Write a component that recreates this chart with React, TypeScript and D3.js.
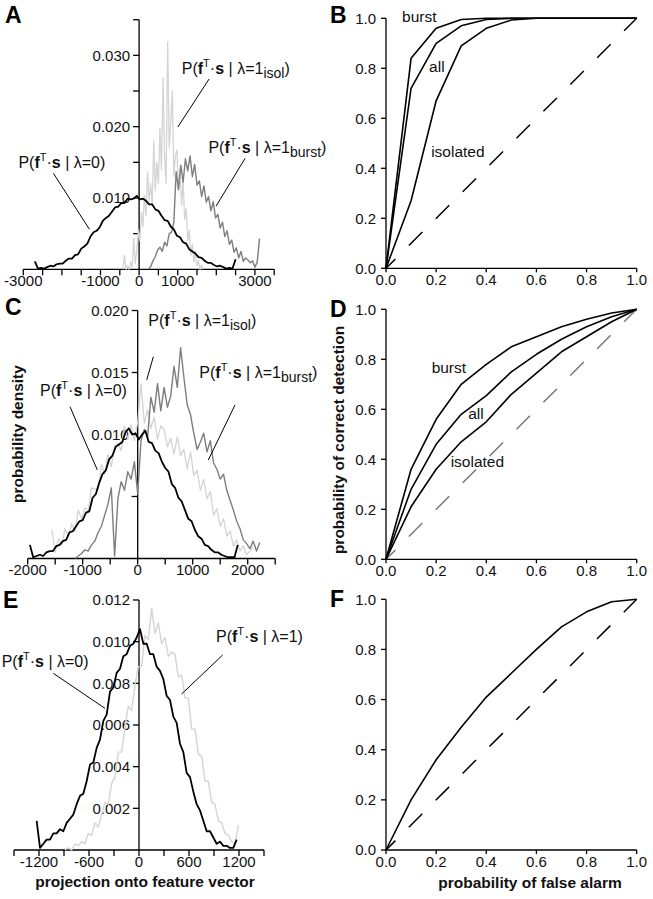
import React from "react";
import * as d3 from "d3";

const FONT = "'Liberation Sans', Arial, Helvetica, sans-serif";
const DENSITY_UNIT = 1e-4; // histogram values below are densities x 1e4

// ---------- Panel A histograms (projection value bins) ----------
const A_NULL_START = -2700;
const A_NULL_STEP = 80;
const A_NULL = [11, 1, 2, 1, 3, 5, 4, 7, 8, 8, 12, 15, 15, 20, 21, 29, 32, 36, 46, 52, 54, 59, 68, 72, 75, 81, 87, 88, 93, 93, 99, 98, 99, 103, 98, 99, 96, 91, 91, 84, 82, 75, 69, 68, 60, 56, 47, 45, 38, 36, 28, 25, 22, 17, 16, 12, 9, 9, 6, 4, 5, 3, 1, 2, 1, 14];
const A_ISOL_START = -420;
const A_ISOL_STEP = 40;
const A_ISOL = [0, 20, 0, 5, 0, 10, 3, 43, 8, 25, 55, 40, 80, 60, 104, 75, 137, 95, 120, 90, 180, 110, 150, 120, 198, 140, 268, 160, 120, 319, 170, 207, 250, 130, 160, 167, 110, 140, 90, 125, 70, 85, 40, 55, 20, 35, 10, 25, 5, 12, 0, 6, 0];
const A_BURST_START = 240;
const A_BURST_STEP = 60;
const A_BURST = [0, 4, 12, 18, 27, 31, 25, 38, 33, 50, 52, 66, 137, 112, 146, 122, 155, 138, 159, 130, 147, 118, 124, 102, 117, 94, 102, 82, 95, 72, 77, 58, 66, 46, 54, 35, 41, 24, 30, 16, 25, 11, 16, 13, 9, 12, 3, 10, 43];

// ---------- Panel C histograms ----------
const C_NULL_START = -1960;
const C_NULL_STEP = 60;
const C_NULL = [11, 1, 2, 3, 2, 5, 6, 6, 10, 11, 14, 15, 21, 22, 26, 30, 31, 37, 38, 49, 52, 61, 68, 71, 80, 83, 90, 92, 94, 102, 105, 100, 101, 96, 100, 103, 94, 93, 87, 85, 78, 73, 70, 60, 57, 49, 46, 39, 32, 30, 23, 18, 16, 11, 10, 7, 5, 5, 3, 2, 1, 1, 1, 11];
const C_ISOL_START = -1560;
const C_ISOL_STEP = 60;
const C_ISOL = [23, 5, 16, 11, 24, 18, 28, 22, 39, 32, 41, 38, 57, 56, 56, 76, 68, 84, 74, 91, 93, 87, 107, 96, 108, 95, 110, 141, 109, 120, 105, 114, 96, 107, 104, 90, 97, 84, 98, 83, 88, 72, 86, 67, 71, 55, 64, 48, 54, 35, 40, 26, 32, 18, 22, 10, 15, 6, 10, 3, 6, 10];
const C_BURST_START = -1140;
const C_BURST_STEP = 60;
const C_BURST = [0, 2, 4, 7, 6, 11, 14, 21, 26, 35, 44, 57, 2, 48, 62, 55, 70, 64, 78, 52, 95, 104, 98, 130, 118, 141, 119, 138, 122, 131, 155, 138, 170, 146, 124, 116, 101, 88, 94, 101, 86, 95, 77, 72, 64, 68, 55, 47, 39, 30, 24, 15, 12, 8, 14, 6, 13];

// ---------- Panel E histograms ----------
const E_NULL_START = -1228;
const E_NULL_STEP = 40;
const E_NULL = [14, 1, 3, 5, 5, 8, 8, 10, 9, 13, 15, 17, 22, 26, 27, 33, 41, 42, 49, 53, 62, 65, 76, 78, 85, 87, 93, 94, 98, 99, 102, 106, 99, 99, 94, 94, 88, 86, 82, 74, 72, 64, 61, 51, 47, 37, 35, 28, 22, 19, 14, 9, 9, 6, 3, 4, 2, 2, 1, 1, 5];
const E_SIG_START = -888;
const E_SIG_STEP = 40;
const E_SIG = [0, 1, 0, 3, 2, 4, 3, 8, 7, 13, 11, 17, 23, 22, 32, 35, 47, 47, 59, 69, 67, 79, 88, 88, 103, 101, 116, 104, 109, 99, 102, 93, 95, 94, 83, 84, 73, 73, 58, 58, 46, 45, 33, 33, 23, 22, 14, 13, 8, 7, 4, 3, 12];

// ---------- ROC curves ----------
const FALSE_ALARM = [0, 0.1, 0.2, 0.3, 0.4, 0.5, 0.6, 0.7, 0.8, 0.9, 1.0];
const B_BURST = [0, 0.84, 0.96, 0.995, 1, 1, 1, 1, 1, 1, 1];
const B_ALL = [0, 0.72, 0.9, 0.97, 0.995, 1, 1, 1, 1, 1, 1];
const B_ISOL = [0, 0.27, 0.67, 0.89, 0.96, 0.993, 1, 1, 1, 1, 1];
const D_BURST = [0, 0.36, 0.56, 0.7, 0.78, 0.85, 0.89, 0.93, 0.96, 0.985, 1];
const D_ALL = [0, 0.28, 0.46, 0.58, 0.655, 0.75, 0.82, 0.88, 0.93, 0.97, 1];
const D_ISOL = [0, 0.21, 0.36, 0.47, 0.55, 0.66, 0.745, 0.83, 0.89, 0.95, 1];
const F_ALL = [0, 0.2, 0.36, 0.49, 0.61, 0.705, 0.8, 0.89, 0.95, 0.99, 1];
const CHANCE_X = [0, 1];
const CHANCE_Y = [0, 1];

// ---------- ticks ----------
const A_XTICKS = [-3000, -2500, -2000, -1500, -1000, -500, 0, 500, 1000, 1500, 2000, 2500, 3000, 3500];
const A_XLABELS = [-3000, -1000, 0, 1000, 3000];
const A_YTICKS = [0.005, 0.01, 0.015, 0.02, 0.025, 0.03, 0.035];
const A_YLABELS = [0.01, 0.02, 0.03];
const C_XTICKS = [-2000, -1500, -1000, -500, 0, 500, 1000, 1500, 2000, 2500];
const C_XLABELS = [-2000, -1000, 0, 1000, 2000];
const C_YTICKS = [0.005, 0.01, 0.015, 0.02];
const C_YLABELS = [0.01, 0.015, 0.02];
const E_XTICKS = [-1500, -1200, -900, -600, -300, 0, 300, 600, 900, 1200, 1500];
const E_XLABELS = [-1200, -600, 0, 600, 1200];
const E_YTICKS = [0.002, 0.004, 0.006, 0.008, 0.01, 0.012];
const E_YLABELS = [0.002, 0.004, 0.006, 0.008, 0.01, 0.012];
const ROC_TICKS = [0, 0.2, 0.4, 0.6, 0.8, 1.0];

type Hist = { start: number; step: number; values: number[] };
type Note = { text: [number, number]; lead: [number, number][]; eq: string; sub?: string };
type Scale = d3.ScaleLinear<number, number>;

const LIGHT = "#d4d4d4";
const DARK = "#7e7e7e";

function histPts(h: Hist): [number, number][] {
  return h.values.map((v, i) => [h.start + i * h.step, v * DENSITY_UNIT]);
}

function PLabel({ x, y, eq, sub }: { x: number; y: number; eq: string; sub?: string }) {
  return (
    <text x={x} y={y} fontSize={16} fill="#111">
      <tspan>P(</tspan>
      <tspan fontWeight="bold">f</tspan>
      <tspan fontSize={11} dy={-7}>T</tspan>
      <tspan dy={7}>{"\u00b7"}</tspan>
      <tspan fontWeight="bold">s</tspan>
      <tspan>{" | \u03bb=" + eq}</tspan>
      {sub ? <tspan fontSize={14} dy={4}>{sub}</tspan> : null}
      <tspan dy={sub ? -4 : 0}>)</tspan>
    </text>
  );
}

function HistPanel(props: {
  x: Scale;
  y: Scale;
  xTicks: number[];
  xLabels: number[];
  yTicks: number[];
  yLabels: number[];
  yFmt: (v: number) => string;
  series: { h: Hist; color: string; width: number }[];
  notes: Note[];
}) {
  const { x, y } = props;
  const x0 = x(0);
  const yb = y(0);
  const [xmin, xmax] = x.domain();
  const ytop = y.domain()[1];
  const line = d3
    .line<[number, number]>()
    .x((d) => x(d[0]))
    .y((d) => y(d[1]));
  return (
    <g>
      <g stroke="#000" strokeWidth={1.3}>
        <line x1={x0} x2={x0} y1={yb} y2={y(ytop)} />
        <line x1={x(xmin)} x2={x(xmax)} y1={yb} y2={yb} />
        {props.yTicks.map((t) => (
          <line key={"yt" + t} x1={x0 - 6} x2={x0} y1={y(t)} y2={y(t)} />
        ))}
        {props.xTicks.map((t) => (
          <line key={"xt" + t} x1={x(t)} x2={x(t)} y1={yb} y2={yb + 6} />
        ))}
      </g>
      <g fontSize={15} fill="#111">
        {props.yLabels.map((t) => (
          <text key={"yl" + t} x={x0 - 9} y={y(t) + 5.3} textAnchor="end">
            {props.yFmt(t)}
          </text>
        ))}
        {props.xLabels.map((t) => (
          <text key={"xl" + t} x={x(t)} y={yb + 16.5} textAnchor="middle">
            {String(t)}
          </text>
        ))}
      </g>
      {props.series.map((s, i) => (
        <path
          key={"s" + i}
          d={line(histPts(s.h)) || ""}
          fill="none"
          stroke={s.color}
          strokeWidth={s.width}
          strokeLinejoin="round"
        />
      ))}
      {props.notes.map((n, i) => (
        <g key={"n" + i}>
          <line
            x1={x(n.lead[0][0])}
            y1={y(n.lead[0][1])}
            x2={x(n.lead[1][0])}
            y2={y(n.lead[1][1])}
            stroke="#000"
            strokeWidth={1}
          />
          <PLabel x={x(n.text[0])} y={y(n.text[1])} eq={n.eq} sub={n.sub} />
        </g>
      ))}
    </g>
  );
}

function RocPanel(props: {
  x: Scale;
  y: Scale;
  curves: number[][];
  chanceColor: string;
  labels: { text: string; pos: [number, number] }[];
}) {
  const { x, y } = props;
  const line = d3
    .line<[number, number]>()
    .x((d) => x(d[0]))
    .y((d) => y(d[1]));
  const chance = line(CHANCE_X.map((v, i) => [v, CHANCE_Y[i]] as [number, number])) || "";
  return (
    <g>
      <g stroke="#000" strokeWidth={1.3}>
        <line x1={x(0)} x2={x(0)} y1={y(0)} y2={y(1)} />
        <line x1={x(0)} x2={x(1)} y1={y(0)} y2={y(0)} />
        {ROC_TICKS.map((t) => (
          <line key={"yt" + t} x1={x(0) - 5} x2={x(0)} y1={y(t)} y2={y(t)} />
        ))}
        {ROC_TICKS.map((t) => (
          <line key={"xt" + t} x1={x(t)} x2={x(t)} y1={y(0)} y2={y(0) + 4} />
        ))}
      </g>
      <g fontSize={15} fill="#111">
        {ROC_TICKS.map((t) => (
          <text key={"yl" + t} x={x(0) - 10} y={y(t) + 5.3} textAnchor="end">
            {t.toFixed(1)}
          </text>
        ))}
        {ROC_TICKS.map((t) => (
          <text key={"xl" + t} x={x(t)} y={y(0) + 17} textAnchor="middle">
            {t.toFixed(1)}
          </text>
        ))}
      </g>
      <path
        d={chance}
        fill="none"
        stroke={props.chanceColor}
        strokeWidth={1.5}
        strokeDasharray="19,19"
        strokeDashoffset={5.7}
      />
      {props.curves.map((c, i) => (
        <path
          key={"c" + i}
          d={line(FALSE_ALARM.map((v, j) => [v, c[j]] as [number, number])) || ""}
          fill="none"
          stroke="#000"
          strokeWidth={1.6}
          strokeLinejoin="round"
        />
      ))}
      <g fontSize={15.5} fill="#111">
        {props.labels.map((l) => (
          <text key={l.text} x={x(l.pos[0])} y={y(l.pos[1])}>
            {l.text}
          </text>
        ))}
      </g>
    </g>
  );
}

export default function App() {
  const xA = d3.scaleLinear().domain([-3000, 3500]).range([23.3, 274.2]);
  const yA = d3.scaleLinear().domain([0, 0.035]).range([269.3, 19.7]);
  const xC = d3.scaleLinear().domain([-2000, 2500]).range([27.7, 275.2]);
  const yC = d3.scaleLinear().domain([0, 0.02]).range([558.5, 310.5]);
  const xE = d3.scaleLinear().domain([-1500, 1500]).range([14, 264]);
  const yE = d3.scaleLinear().domain([0, 0.012]).range([850, 600]);
  const xR = d3.scaleLinear().domain([0, 1]).range([386, 636.7]);
  const yB = d3.scaleLinear().domain([0, 1]).range([268.3, 18.3]);
  const yD = d3.scaleLinear().domain([0, 1]).range([559.3, 309.3]);
  const yF = d3.scaleLinear().domain([0, 1]).range([850, 599.3]);
  const fmt3 = (v: number) => v.toFixed(3);

  return (
    <svg
      width={653}
      height={899}
      viewBox="0 0 653 899"
      style={{ position: "absolute", left: 0, top: 0, fontFamily: FONT }}
    >
      <rect width={653} height={899} fill="#fff" />

      {/* Panel letters */}
      <g fontSize={23} fontWeight="bold" fill="#000">
        <text x={5} y={23}>A</text>
        <text x={330} y={23}>B</text>
        <text x={5} y={315}>C</text>
        <text x={330} y={316.5}>D</text>
        <text x={3} y={608}>E</text>
        <text x={330} y={607}>F</text>
      </g>

      <HistPanel
        x={xA}
        y={yA}
        xTicks={A_XTICKS}
        xLabels={A_XLABELS}
        yTicks={A_YTICKS}
        yLabels={A_YLABELS}
        yFmt={fmt3}
        series={[
          { h: { start: A_ISOL_START, step: A_ISOL_STEP, values: A_ISOL }, color: LIGHT, width: 1.3 },
          { h: { start: A_BURST_START, step: A_BURST_STEP, values: A_BURST }, color: DARK, width: 1.4 },
          { h: { start: A_NULL_START, step: A_NULL_STEP, values: A_NULL }, color: "#000", width: 1.8 },
        ]}
        notes={[
          { text: [1106, 0.02737], lead: [[1813, 0.02668], [1003, 0.01995]], eq: "1", sub: "isol" },
          { text: [1795, 0.01635], lead: [[2746, 0.01556], [1995, 0.00887]], eq: "1", sub: "burst" },
          { text: [-3127, 0.01424], lead: [[-2220, 0.01346], [-1288, 0.00561]], eq: "0" },
        ]}
      />

      <HistPanel
        x={xC}
        y={yC}
        xTicks={C_XTICKS}
        xLabels={C_XLABELS}
        yTicks={C_YTICKS}
        yLabels={C_YLABELS}
        yFmt={fmt3}
        series={[
          { h: { start: C_ISOL_START, step: C_ISOL_STEP, values: C_ISOL }, color: LIGHT, width: 1.3 },
          { h: { start: C_BURST_START, step: C_BURST_STEP, values: C_BURST }, color: DARK, width: 1.4 },
          { h: { start: C_NULL_START, step: C_NULL_STEP, values: C_NULL }, color: "#000", width: 1.8 },
        ]}
        notes={[
          { text: [193, 0.01875], lead: [[284, 0.01627], [164, 0.0144]], eq: "1", sub: "isol" },
          { text: [1120, 0.01453], lead: [[1769, 0.01238], [1284, 0.00794]], eq: "1", sub: "burst" },
          { text: [-1776, 0.0131], lead: [[-1231, 0.01224], [-734, 0.00714]], eq: "0" },
        ]}
      />

      <HistPanel
        x={xE}
        y={yE}
        xTicks={E_XTICKS}
        xLabels={E_XLABELS}
        yTicks={E_YTICKS}
        yLabels={E_YLABELS}
        yFmt={fmt3}
        series={[
          { h: { start: E_SIG_START, step: E_SIG_STEP, values: E_SIG }, color: LIGHT, width: 1.4 },
          { h: { start: E_NULL_START, step: E_NULL_STEP, values: E_NULL }, color: "#000", width: 1.8 },
        ]}
        notes={[
          { text: [924, 0.01], lead: [[1004, 0.00936], [512, 0.00749]], eq: "1" },
          { text: [-1648, 0.00877], lead: [[-1028, 0.00848], [-408, 0.0068]], eq: "0" },
        ]}
      />

      <RocPanel
        x={xR}
        y={yB}
        curves={[B_BURST, B_ALL, B_ISOL]}
        chanceColor="#000"
        labels={[
          { text: "burst", pos: [0.064, 0.984] },
          { text: "all", pos: [0.172, 0.786] },
          { text: "isolated", pos: [0.18, 0.446] },
        ]}
      />
      <RocPanel
        x={xR}
        y={yD}
        curves={[D_BURST, D_ALL, D_ISOL]}
        chanceColor="#777"
        labels={[
          { text: "burst", pos: [0.182, 0.746] },
          { text: "all", pos: [0.328, 0.56] },
          { text: "isolated", pos: [0.258, 0.37] },
        ]}
      />
      <RocPanel x={xR} y={yF} curves={[F_ALL]} chanceColor="#000" labels={[]} />

      {/* Axis titles */}
      <g fontSize={15.5} fontWeight="bold" fill="#111">
        <text transform="translate(23,434) rotate(-90)" textAnchor="middle">
          probability density
        </text>
        <text transform="translate(344,440) rotate(-90)" textAnchor="middle">
          probability of correct detection
        </text>
        <text x={145} y={887} textAnchor="middle">
          projection onto feature vector
        </text>
        <text x={530} y={887.5} textAnchor="middle">
          probability of false alarm
        </text>
      </g>
    </svg>
  );
}
